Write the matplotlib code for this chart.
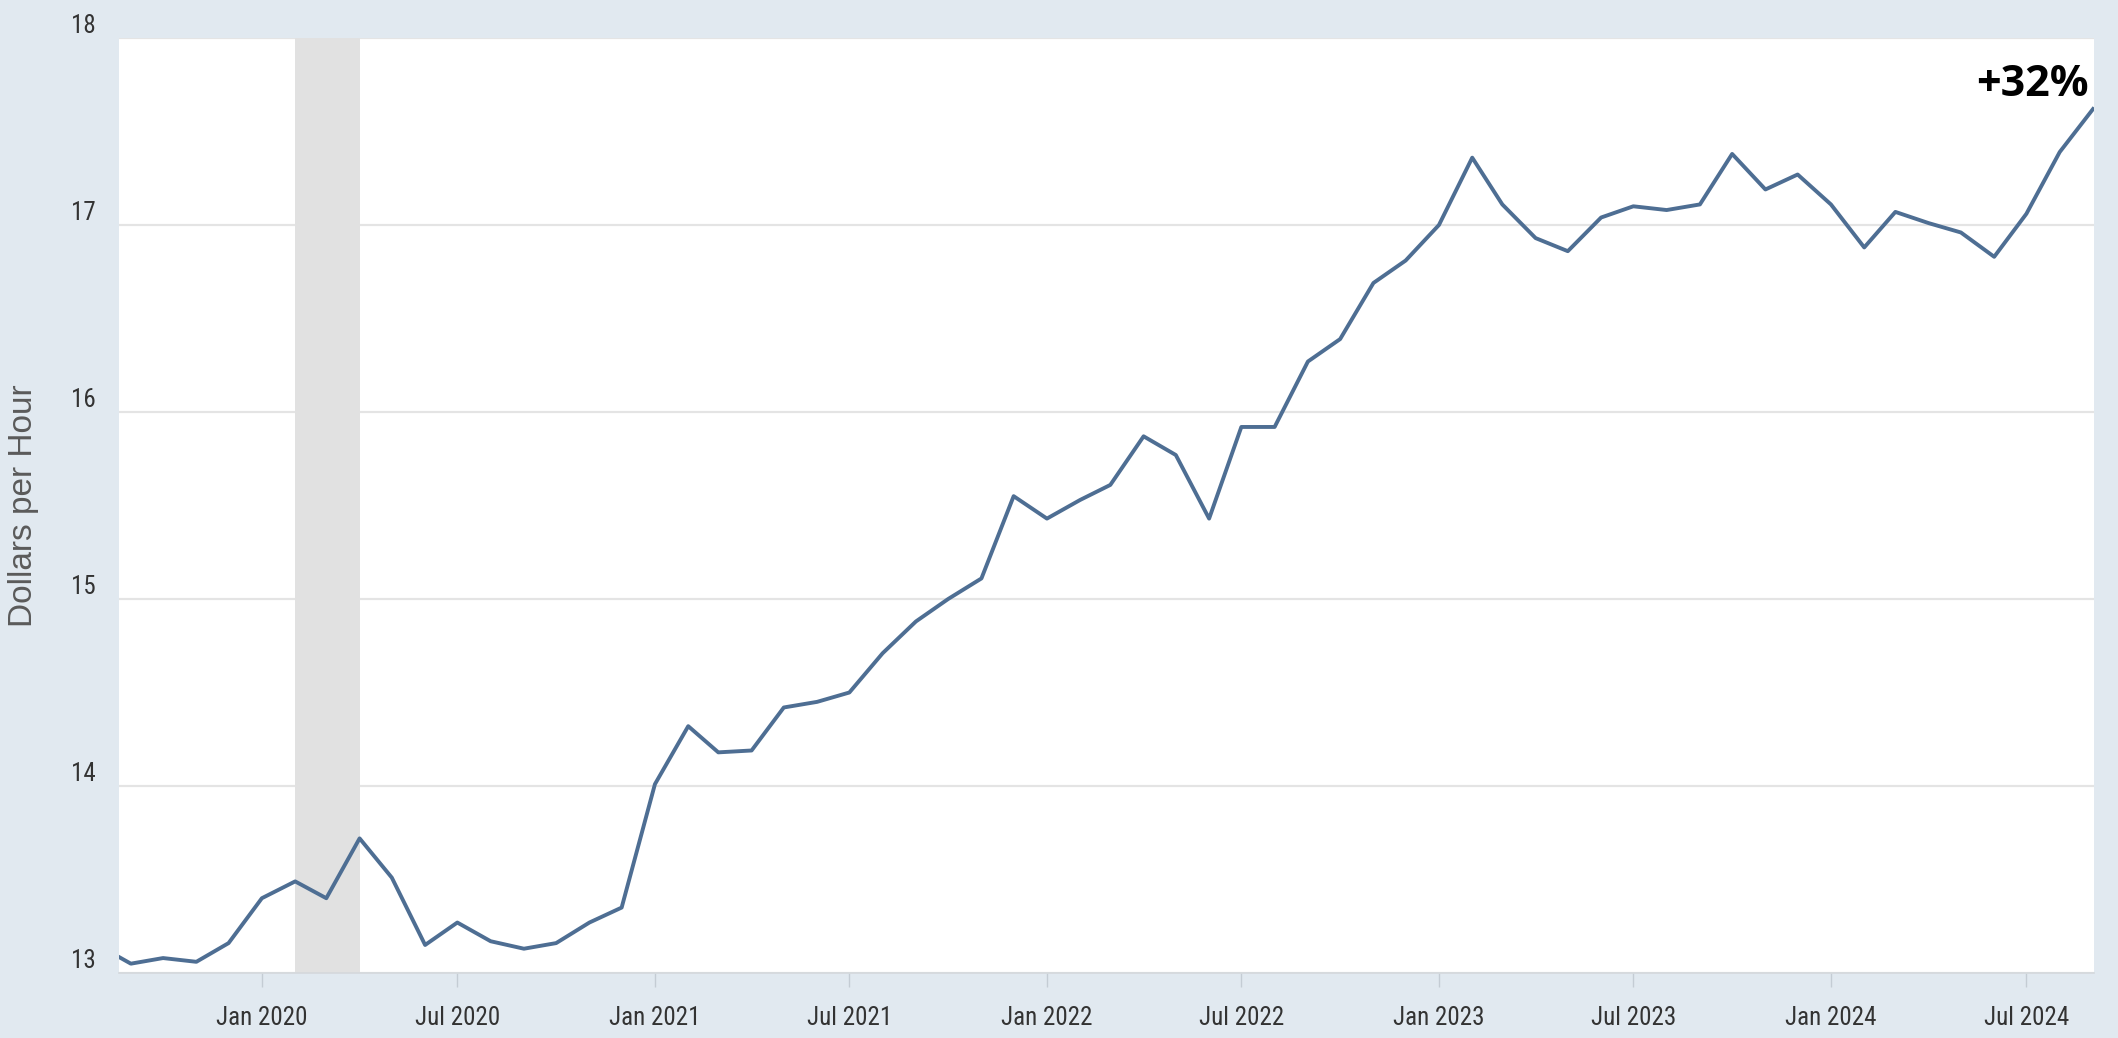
import matplotlib
matplotlib.use("Agg")
import matplotlib.pyplot as plt
from matplotlib import font_manager
import pandas as pd

#%% Data (monthly, dollars per hour)

months = pd.date_range("2019-08-01", "2024-09-01", freq="MS")
wages = [13.15, 13.05, 13.08, 13.06, 13.16,
         13.40, 13.49, 13.40, 13.72, 13.51, 13.15, 13.27, 13.17, 13.13, 13.16, 13.27, 13.35,
         14.01, 14.32, 14.18, 14.19, 14.42, 14.45, 14.50, 14.71, 14.88, 15.00, 15.11, 15.55,
         15.43, 15.53, 15.61, 15.87, 15.77, 15.43, 15.92, 15.92, 16.27, 16.39, 16.69, 16.81,
         17.00, 17.36, 17.11, 16.93, 16.86, 17.04, 17.10, 17.08, 17.11, 17.38, 17.19, 17.27,
         17.11, 16.88, 17.07, 17.01, 16.96, 16.83, 17.06, 17.39, 17.62]

recession = ("2020-02-01", "2020-04-01")
tick_dates = pd.date_range("2020-01-01", "2024-07-01", freq="6MS")
tick_labels = [d.strftime("%b %Y") for d in tick_dates]
y_ticks = [13, 14, 15, 16, 17, 18]
note = "+32%"

#%% Pick a condensed font if one is installed

tick_font, tick_size = "Liberation Sans", 16
for fam in ["Liberation Sans Narrow", "Roboto Condensed", "Open Sans Condensed",
            "Noto Sans Condensed", "DejaVu Sans Condensed"]:
    try:
        font_manager.findfont(font_manager.FontProperties(family=fam),
                              fallback_to_default=False)
        tick_font, tick_size = fam, 18
        break
    except ValueError:
        pass

#%% Figure

bg = "#e1e9f0"

fig = plt.figure(figsize=(21.18, 10.38), dpi=100, facecolor=bg)
ax = fig.add_axes([0.0562, 0.0626, 0.9325, 0.9008])
ax.set_facecolor("white")

ax.axvspan(pd.Timestamp(recession[0]), pd.Timestamp(recession[1]),
           color="#e1e1e1", lw=0, zorder=1)
ax.plot(months, wages, color="#4e6e93", lw=2.8, zorder=3)

ax.set_xlim(pd.Timestamp("2019-08-21"), pd.Timestamp("2024-09-02"))
ax.set_ylim(13, 18)

ax.set_yticks(y_ticks)
ax.set_yticklabels([str(v) for v in y_ticks])
ax.set_xticks(tick_dates)
ax.set_xticklabels(tick_labels)

ax.set_axisbelow(True)
ax.grid(axis="y", color="#e4e4e4", lw=1.6)
ax.grid(axis="x", visible=False)

for s in ["top", "right", "left"]:
    ax.spines[s].set_visible(False)
ax.spines["bottom"].set_color("#d4d8dc")
ax.spines["bottom"].set_linewidth(1.2)

ax.tick_params(axis="y", length=0, pad=17, labelsize=tick_size, labelcolor="#333333")
ax.tick_params(axis="x", length=10, width=1, color="#c4ccd4", pad=14,
               labelsize=tick_size, labelcolor="#333333")
for lbl in ax.get_yticklabels() + ax.get_xticklabels():
    lbl.set_family(tick_font)
for lbl in ax.get_yticklabels():
    lbl.set_va("bottom")

fig.text(24 / 2118, 1 - 506 / 1038, "Dollars per Hour", rotation=90,
         ha="center", va="center", fontsize=24, color="#5a5a5a",
         family=["Liberation Sans", "DejaVu Sans"])

ax.text(0.9975, 0.95, note, transform=ax.transAxes, ha="right", va="center",
        fontsize=31, fontweight="bold", color="black",
        family=["Open Sans", "DejaVu Sans"])

plt.savefig("out.png", dpi=100, facecolor=bg)
